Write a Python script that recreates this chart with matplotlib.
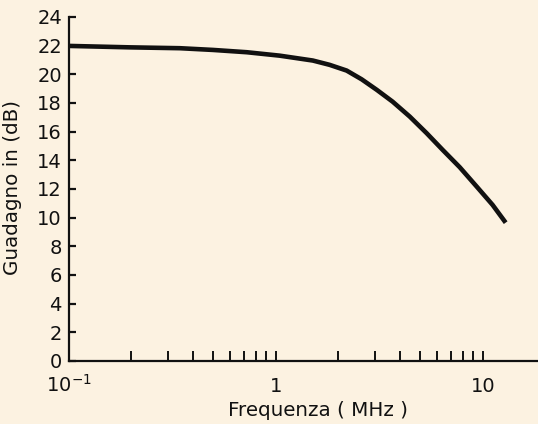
import numpy as np
import matplotlib
matplotlib.use("Agg")
import matplotlib.pyplot as plt
from matplotlib.ticker import FixedLocator, NullFormatter

plt.rcParams['font.family'] = ['DejaVu Sans']
plt.rcParams['mathtext.fontset'] = 'dejavusans'

# gain curve
freq_mhz = [0.1, 0.141, 0.197, 0.344, 0.497, 0.724, 1.045, 1.51, 1.82, 2.20,
            2.6, 3.08, 3.67, 4.44, 5.36, 6.41, 7.74, 9.36, 11.16, 12.91]
gain_db = [21.98, 21.93, 21.88, 21.82, 21.70, 21.54, 21.30, 20.96, 20.66,
           20.26, 19.65, 18.91, 18.09, 17.05, 15.89, 14.72, 13.52, 12.16,
           10.89, 9.65]

y_ticks = list(range(0, 25, 2))
x_major = [0.1, 1, 10]
x_major_labels = [r'$10^{-1}$', '1', '10']
x_minor = [0.2, 0.3, 0.4, 0.5, 0.6, 0.7, 0.8, 0.9,
           2, 3, 4, 5, 6, 7, 8, 9]

bg = '#fcf2e1'
ink = '#111111'

fig = plt.figure(figsize=(5.38, 4.24), dpi=100, facecolor=bg)
ax = fig.add_axes([0.128, 0.1486, 0.872, 0.8114], facecolor=bg)

ax.plot(freq_mhz, gain_db, color=ink, lw=3.3, solid_capstyle='butt',
        solid_joinstyle='round')

ax.set_xscale('log')
ax.set_xlim(0.1, 18.5)
ax.set_ylim(0, 24)

for s in ['top', 'right']:
    ax.spines[s].set_visible(False)
for s in ['left', 'bottom']:
    ax.spines[s].set_linewidth(1.6)
    ax.spines[s].set_color(ink)

ax.set_yticks(y_ticks)
ax.set_yticklabels([str(v) for v in y_ticks])
ax.tick_params(axis='y', direction='in', length=5, width=1.6, pad=5,
               labelsize=14, colors=ink)

ax.xaxis.set_major_locator(FixedLocator(x_major))
ax.xaxis.set_minor_locator(FixedLocator(x_minor))
ax.xaxis.set_minor_formatter(NullFormatter())
ax.set_xticklabels(x_major_labels)
ax.tick_params(axis='x', which='both', direction='in', length=7.5, width=1.4,
               colors=ink)
ax.tick_params(axis='x', which='major', pad=22, labelsize=14)
for t in ax.get_xticklabels():
    t.set_verticalalignment('baseline')

ax.set_xlabel('Frequenza ( MHz )', fontsize=14.3, color=ink)
ax.xaxis.set_label_coords(0.53, -0.115)
ax.set_ylabel('Guadagno in (dB)', fontsize=14.3, color=ink)
ax.yaxis.set_label_coords(-0.100, 0.505)

fig.savefig('out.png', dpi=100, facecolor=bg)
